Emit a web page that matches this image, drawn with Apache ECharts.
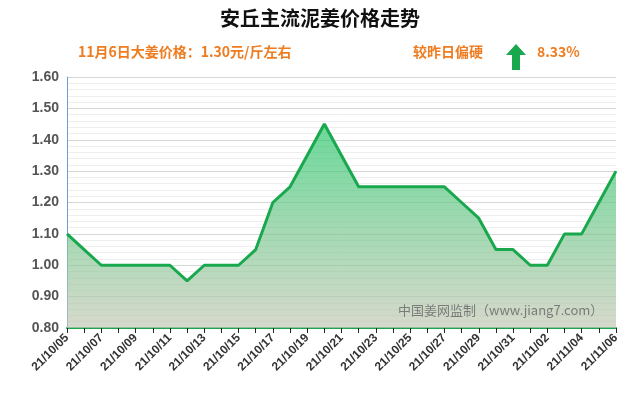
<!DOCTYPE html>
<html>
<head>
<meta charset="utf-8">
<script src="https://cdn.jsdelivr.net/npm/echarts@6/dist/echarts.min.js"></script>
<style>html,body{margin:0;padding:0;background:#fff}</style>
</head>
<body>
<div id="main" style="width:640px;height:410px"></div>
<script>
var dates = ['21/10/05','21/10/06','21/10/07','21/10/08','21/10/09','21/10/10','21/10/11','21/10/12','21/10/13','21/10/14','21/10/15','21/10/16','21/10/17','21/10/18','21/10/19','21/10/20','21/10/21','21/10/22','21/10/23','21/10/24','21/10/25','21/10/26','21/10/27','21/10/28','21/10/29','21/10/30','21/10/31','21/11/01','21/11/02','21/11/03','21/11/04','21/11/05','21/11/06']
var prices = [1.10,1.05,1.00,1.00,1.00,1.00,1.00,0.95,1.00,1.00,1.00,1.05,1.20,1.25,1.35,1.45,1.35,1.25,1.25,1.25,1.25,1.25,1.25,1.20,1.15,1.05,1.05,1.00,1.00,1.10,1.10,1.20,1.30]
// points that carry a value label in the picture
var labelled = ['21/10/05','21/10/06','21/10/09','21/10/12','21/10/14','21/10/16','21/10/17','21/10/18','21/10/19','21/10/20','21/10/21','21/10/24','21/10/28','21/10/29','21/10/30','21/11/02','21/11/03','21/11/06']
var yTicks = [0.8, 1.6, 0.1]

var seriesData = prices.map(function (v, i) {
  var show = labelled.indexOf(dates[i]) >= 0
  var pos = 'top'
  if (dates[i] === '21/10/12' || dates[i] === '21/11/02') pos = 'bottom'
  if (dates[i] === '21/10/21') pos = 'right'
  if (dates[i] === '21/10/19' || dates[i] === '21/10/17' || dates[i] === '21/10/18' || dates[i] === '21/10/28') pos = 'left'
  return { value: v, label: { show: show, position: pos } }
})

var myChart = echarts.init(document.getElementById('main'))
myChart.setOption({
  animation: false,
  grid: { left: 67, right: 24, top: 77, bottom: 82 },
  graphic: [
    { type: 'text', left: 'center', top: 8, style: { text: '安丘主流泥姜价格走势', font: 'bold 20px "Noto Sans CJK SC"', fill: '#111' } },
    { type: 'text', left: 78, top: 45, style: { text: '11月6日大姜价格：1.30元/斤左右', font: 'bold 14px "Noto Sans CJK SC"', fill: '#ee7d22' } },
    { type: 'text', left: 413, top: 45, style: { text: '较昨日偏硬', font: 'bold 14px "Noto Sans CJK SC"', fill: '#ee7d22' } },
    { type: 'polygon', shape: { points: [[516, 44], [526, 55], [520, 55], [520, 70], [512, 70], [512, 55], [506, 55]] }, style: { fill: '#1aa84f' } },
    { type: 'text', left: 537, top: 45, style: { text: '8.33%', font: 'bold 14px "Noto Sans CJK SC"', fill: '#ee7d22' } },
    { type: 'text', left: 398, top: 304, z: 10, style: { text: '中国姜网监制（www.jiang7.com）', font: '13px "Noto Sans CJK SC"', fill: '#7a7a7a' } }
  ],
  xAxis: {
    type: 'category',
    data: dates,
    boundaryGap: false,
    axisLine: { lineStyle: { color: '#1aa84f', width: 2 } },
    axisTick: { show: true, interval: 0, lineStyle: { color: '#222' } },
    axisLabel: {
      interval: 1, rotate: 45, color: '#333', fontSize: 12, fontWeight: 'bold',
      fontFamily: 'Liberation Sans'
    }
  },
  yAxis: {
    type: 'value',
    min: yTicks[0], max: yTicks[1], interval: yTicks[2],
    axisLine: { show: true, lineStyle: { color: '#6a9fd0' } },
    axisLabel: { color: '#555', fontSize: 14, fontWeight: 'bold', fontFamily: 'Liberation Sans', formatter: function (v) { return v.toFixed(2) } },
    splitLine: { lineStyle: { color: '#d6d6d6' } },
    minorTick: { show: false, splitNumber: 5 },
    minorSplitLine: { show: true, lineStyle: { color: '#eeeeee' } }
  },
  series: [{
    type: 'line',
    data: seriesData,
    symbol: 'none',
    lineStyle: { color: '#1aa84f', width: 3 },
    label: { color: '#111', fontSize: 15, fontFamily: 'DejaVu Sans', formatter: function (p) { return p.value.toFixed(2) } },
    areaStyle: {
      color: new echarts.graphic.LinearGradient(0, 0, 0, 1, [
        { offset: 0, color: '#2bc76c' },
        { offset: 1, color: '#c4c8b4' }
      ])
    }
  }]
})
</script>
</body>
</html>
